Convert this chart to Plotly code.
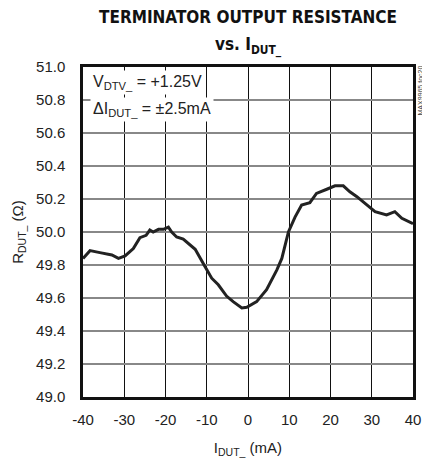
import plotly.graph_objects as go

current_ma = [-40, -38.3, -35.9, -33.0, -31.4, -29.8, -27.8, -26.2, -24.7, -23.8, -23.0, -21.7, -20.5,
              -19.3, -18.5, -17.3, -15.7, -12.8, -10.4, -8.8, -7.2, -5.2, -3.6, -1.5, -0.3, 2.1,
              4.5, 7.0, 8.2, 9.8, 11.4, 13.0, 15.0, 16.6, 19.1, 21.1, 23.1, 24.7, 26.4, 28.4,
              30.8, 33.6, 35.6, 37.3, 39.7, 40]
resistance = [49.84, 49.887, 49.875, 49.861, 49.84, 49.855, 49.90, 49.966, 49.98, 50.012, 50.00, 50.016, 50.016,
              50.03, 50.00, 49.97, 49.957, 49.895, 49.79, 49.72, 49.68, 49.612, 49.578, 49.54, 49.544, 49.578,
              49.65, 49.77, 49.84, 50.00, 50.09, 50.164, 50.178, 50.234, 50.259, 50.28, 50.28, 50.244, 50.214, 50.17,
              50.123, 50.103, 50.123, 50.083, 50.056, 50.05]

x_ticks = [-40, -30, -20, -10, 0, 10, 20, 30, 40]
y_ticks = [49.0, 49.2, 49.4, 49.6, 49.8, 50.0, 50.2, 50.4, 50.6, 50.8, 51.0]

FONT = "Liberation Sans Narrow, Arial Narrow, Liberation Sans, sans-serif"
TFONT = "DejaVu Sans Condensed, Liberation Sans Narrow, sans-serif"

fig = go.Figure()
fig.add_trace(go.Scatter(x=current_ma, y=resistance, mode="lines",
                         line=dict(color="#222222", width=3), showlegend=False))

fig.update_layout(
    width=422, height=459,
    margin=dict(l=83, r=9, t=67, b=62),
    paper_bgcolor="white", plot_bgcolor="white",
    font=dict(family=FONT, size=14, color="#222"),
)
fig.update_xaxes(range=[-40, 40], tickvals=x_ticks, ticktext=[str(v) for v in x_ticks],
                 showgrid=True, gridcolor="#111", gridwidth=1, zeroline=False, automargin=False,
                 showline=True, linecolor="#111", linewidth=2.5, mirror=True, ticks="",
                 ticklabelstandoff=7,
                 title=dict(text="I<sub>DUT_</sub> (mA)", standoff=16, font=dict(size=15)),
                 tickfont=dict(size=15))
fig.update_yaxes(range=[49.0, 51.0], tickvals=y_ticks, ticktext=[f"{v:.1f}" for v in y_ticks],
                 showgrid=True, gridcolor="#888", gridwidth=1.5, zeroline=False, automargin=False,
                 showline=True, linecolor="#111", linewidth=2.5, mirror=True, ticks="",
                 ticklabelstandoff=12,
                 title=dict(text="R<sub>DUT_</sub> (Ω)", standoff=9, font=dict(size=15)),
                 tickfont=dict(size=15))

# title
fig.add_annotation(xref="paper", yref="paper", x=0.5, y=1.0, yshift=62, xanchor="center", yanchor="top",
                   text="<b>TERMINATOR OUTPUT RESISTANCE</b>", showarrow=False,
                   font=dict(family=TFONT, size=17, color="#111"))
fig.add_annotation(xref="paper", yref="paper", x=0.5, y=1.0, yshift=35, xanchor="center", yanchor="top",
                   text="<b>vs. I<sub>DUT_</sub></b>", showarrow=False,
                   font=dict(family=TFONT, size=17, color="#111"))

# condition box
fig.add_annotation(xref="paper", yref="paper", x=0.0, xshift=7, y=1.0, yshift=-3, xanchor="left", yanchor="top",
                   text="V<sub>DTV_</sub> = +1.25V", showarrow=False, align="left", bgcolor="white",
                   font=dict(family=FONT, size=16, color="#222"), borderpad=2)
fig.add_annotation(xref="paper", yref="paper", x=0.0, xshift=7, y=1.0, yshift=-30, xanchor="left", yanchor="top",
                   text="ΔI<sub>DUT_</sub> = ±2.5mA", showarrow=False, align="left", bgcolor="white",
                   font=dict(family=FONT, size=16, color="#222"), borderpad=2)

fig.add_annotation(xref="paper", yref="paper", x=1.0, xshift=1, y=1.0, yshift=3, xanchor="left", yanchor="top",
                   text="MAX9965 toc20", textangle=-90, showarrow=False,
                   font=dict(family=FONT, size=7, color="#444"))

fig.write_html("out.html", config={"displayModeBar": False},
               post_script="document.body.style.margin='0';document.documentElement.style.overflow='hidden';")
